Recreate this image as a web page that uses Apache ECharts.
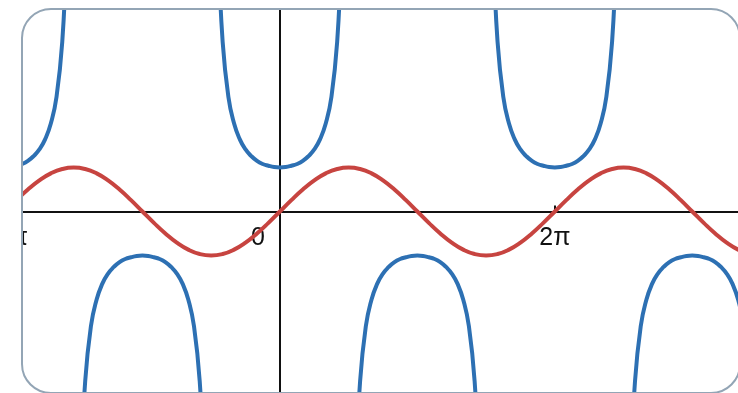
<!DOCTYPE html>
<html>
<head>
<meta charset="utf-8">
<script src="https://cdn.jsdelivr.net/npm/echarts@6/dist/echarts.min.js"></script>
<style>
  html, body { margin: 0; padding: 0; background: #fff; }
  #frame {
    position: absolute; left: 21px; top: 8px; width: 720px; height: 386px;
    box-sizing: border-box; border: 2px solid #93a5b5; border-radius: 30px;
    overflow: hidden; background: #fff;
  }
  #main { position: absolute; left: -18px; top: -10px; width: 756px; height: 400px; }
</style>
</head>
<body>
<div id="frame"><div id="main"></div></div>
<script>
// x in degrees, 360 = 2π
var tickLabels = { '-360': '−2π', '0': '0', '360': '2π' };

// red curve
var sinX = [-360, -345, -330, -315, -300, -285, -270, -255, -240, -225, -210, -195,
  -180, -165, -150, -135, -120, -105, -90, -75, -60, -45, -30, -15,
  0, 15, 30, 45, 60, 75, 90, 105, 120, 135, 150, 165,
  180, 195, 210, 225, 240, 255, 270, 285, 300, 315, 330, 345,
  360, 375, 390, 405, 420, 435, 450, 465, 480, 495, 510, 525,
  540, 555, 570, 585, 600, 615, 630];
var sinY = [0, 0.259, 0.5, 0.707, 0.866, 0.966, 1, 0.966, 0.866, 0.707, 0.5, 0.259,
  0, -0.259, -0.5, -0.707, -0.866, -0.966, -1, -0.966, -0.866, -0.707, -0.5, -0.259,
  0, 0.259, 0.5, 0.707, 0.866, 0.966, 1, 0.966, 0.866, 0.707, 0.5, 0.259,
  0, -0.259, -0.5, -0.707, -0.866, -0.966, -1, -0.966, -0.866, -0.707, -0.5, -0.259,
  0, 0.259, 0.5, 0.707, 0.866, 0.966, 1, 0.966, 0.866, 0.707, 0.5, 0.259,
  0, -0.259, -0.5, -0.707, -0.866, -0.966, -1];

// blue curve, null at the breaks
var secX = [-360, -352.5, -345, -337.5, -330, -322.5, -315, -307.5, -300, -292.5, -285, -280, -275,
  -270,
  -265, -260, -255, -247.5, -240, -232.5, -225, -217.5, -210, -202.5, -195, -187.5, -180,
  -172.5, -165, -157.5, -150, -142.5, -135, -127.5, -120, -112.5, -105, -100, -95,
  -90,
  -85, -80, -75, -67.5, -60, -52.5, -45, -37.5, -30, -22.5, -15, -7.5, 0,
  7.5, 15, 22.5, 30, 37.5, 45, 52.5, 60, 67.5, 75, 80, 85,
  90,
  95, 100, 105, 112.5, 120, 127.5, 135, 142.5, 150, 157.5, 165, 172.5, 180,
  187.5, 195, 202.5, 210, 217.5, 225, 232.5, 240, 247.5, 255, 260, 265,
  270,
  275, 280, 285, 292.5, 300, 307.5, 315, 322.5, 330, 337.5, 345, 352.5, 360,
  367.5, 375, 382.5, 390, 397.5, 405, 412.5, 420, 427.5, 435, 440, 445,
  450,
  455, 460, 465, 472.5, 480, 487.5, 495, 502.5, 510, 517.5, 525, 532.5, 540,
  547.5, 555, 562.5, 570, 577.5, 585, 592.5, 600, 607.5, 615, 620, 625];
var secY = [1, 1.01, 1.04, 1.08, 1.15, 1.26, 1.41, 1.64, 2, 2.61, 3.86, 5.76, 11.47,
  null,
  -11.47, -5.76, -3.86, -2.61, -2, -1.64, -1.41, -1.26, -1.15, -1.08, -1.04, -1.01, -1,
  -1.01, -1.04, -1.08, -1.15, -1.26, -1.41, -1.64, -2, -2.61, -3.86, -5.76, -11.47,
  null,
  11.47, 5.76, 3.86, 2.61, 2, 1.64, 1.41, 1.26, 1.15, 1.08, 1.04, 1.01, 1,
  1.01, 1.04, 1.08, 1.15, 1.26, 1.41, 1.64, 2, 2.61, 3.86, 5.76, 11.47,
  null,
  -11.47, -5.76, -3.86, -2.61, -2, -1.64, -1.41, -1.26, -1.15, -1.08, -1.04, -1.01, -1,
  -1.01, -1.04, -1.08, -1.15, -1.26, -1.41, -1.64, -2, -2.61, -3.86, -5.76, -11.47,
  null,
  11.47, 5.76, 3.86, 2.61, 2, 1.64, 1.41, 1.26, 1.15, 1.08, 1.04, 1.01, 1,
  1.01, 1.04, 1.08, 1.15, 1.26, 1.41, 1.64, 2, 2.61, 3.86, 5.76, 11.47,
  null,
  -11.47, -5.76, -3.86, -2.61, -2, -1.64, -1.41, -1.26, -1.15, -1.08, -1.04, -1.01, -1,
  -1.01, -1.04, -1.08, -1.15, -1.26, -1.41, -1.64, -2, -2.61, -3.86, -5.76, -11.47];

function pairs (xs, ys) {
  return xs.map(function (x, i) { return [x, ys[i]]; });
}

var yMin = -4.284, yMax = 4.807;
var plotH = 400;
// move the x axis up from the grid bottom to y = 0
var axisShift = -plotH * (0 - yMin) / (yMax - yMin);

var myChart = echarts.init(document.getElementById('main'));
myChart.setOption({
  animation: false,
  grid: { left: 0, right: 0, top: 0, bottom: 0, containLabel: false, outerBoundsMode: 'none' },
  xAxis: {
    type: 'value', min: -360, max: 630, interval: 360,
    offset: axisShift,
    axisLine: { show: true, onZero: false, lineStyle: { color: '#111', width: 2 } },
    axisTick: { show: true, inside: true, length: 6, lineStyle: { color: '#111', width: 2 } },
    splitLine: { show: false },
    axisLabel: {
      margin: 14, fontSize: 25, color: '#111', fontFamily: 'Liberation Sans',
      showMinLabel: true, showMaxLabel: false,
      formatter: function (v) {
        var t = tickLabels[String(v)] || '';
        return v === 0 ? '{z|' + t + '}' : t;
      },
      rich: { z: { fontSize: 25, color: '#111', fontFamily: 'Liberation Sans', padding: [0, 44, 0, 0] } }
    }
  },
  yAxis: {
    type: 'value', min: yMin, max: yMax,
    axisLine: { show: true, onZero: true, lineStyle: { color: '#111', width: 2 } },
    axisTick: { show: false },
    axisLabel: { show: false },
    splitLine: { show: false }
  },
  series: [
    {
      type: 'line', data: pairs(secX, secY), showSymbol: false, smooth: 0.5,
      connectNulls: false, lineStyle: { color: '#2d70b3', width: 4 }
    },
    {
      type: 'line', data: pairs(sinX, sinY), showSymbol: false, smooth: 0.5,
      lineStyle: { color: '#c74440', width: 4 }
    }
  ]
});
</script>
</body>
</html>
